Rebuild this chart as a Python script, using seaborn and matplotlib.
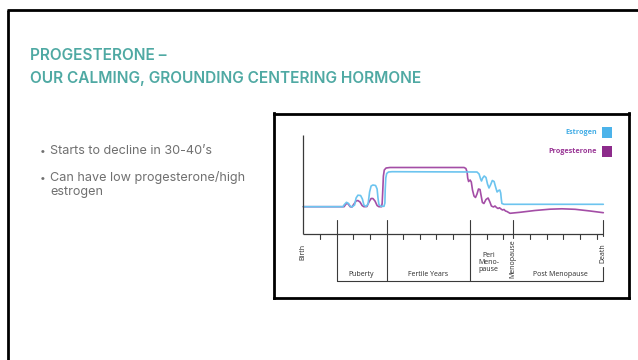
import matplotlib
matplotlib.use("Agg")
import matplotlib.pyplot as plt
import seaborn as sns
import pandas as pd
from matplotlib.patches import Rectangle
from matplotlib.lines import Line2D

# ---- data -------------------------------------------------------------
# x: position along a lifetime (Birth = 0, Death = 100); y: relative hormone level
estrogen_x = [0, 13.2, 13.7, 14.4, 15.1, 15.6, 16.2, 17.1, 17.6, 18.2, 19.1, 19.7,
              20.2, 20.9, 21.6, 22.1, 22.6, 23.2, 24.1, 24.6, 24.9, 25.2, 25.9,
              26.9, 27.2, 27.3, 27.5, 27.8, 28.4, 29.6, 57.9, 58.6, 59.1, 59.4,
              59.8, 60.3, 60.9, 61.4, 61.9, 62.4, 63.0, 63.6, 64.1, 64.6, 65.1,
              65.5, 65.8, 66.0, 66.2, 66.9, 100]
estrogen_y = [27.6, 27.6, 29.8, 32.0, 30.8, 28.3, 27.3, 29.3, 36.3, 39.1, 38.8, 35.3,
              29.3, 27.8, 30.3, 42.3, 48.3, 49.3, 48.8, 45.3, 36.3, 29.8, 28.0,
              28.0, 31.3, 44.3, 56.3, 60.8, 62.3, 62.6, 62.3, 60.3, 55.3, 53.3,
              56.3, 58.3, 56.8, 50.3, 46.3, 49.3, 53.8, 52.8, 47.3, 42.3, 43.8,
              44.3, 41.3, 35.3, 30.8, 30.0, 30.0]

progesterone_x = [0, 13.6, 14.1, 14.6, 15.1, 15.6, 16.2, 16.9, 17.6, 18.2, 18.9, 19.6,
                  20.2, 21.2, 21.9, 22.6, 23.2, 23.9, 24.6, 25.2, 26.1, 26.3, 26.5,
                  26.7, 27.0, 27.6, 28.9, 53.6, 54.2, 54.6, 54.8, 55.1, 55.6, 56.0,
                  56.4, 56.9, 57.4, 57.9, 58.4, 58.9, 59.3, 59.7, 60.2, 60.9, 61.6,
                  62.2, 62.7, 63.4, 63.9, 64.4, 64.9, 65.4, 65.9, 66.4, 66.9, 67.4,
                  67.9, 68.9, 72.2, 77.2, 82.2, 86.2, 90.6, 95.6, 100]
progesterone_y = [27.6, 27.6, 29.8, 31.3, 29.8, 27.6, 27.3, 30.3, 33.3, 33.8, 32.3, 28.8,
                  27.6, 27.8, 32.3, 35.8, 35.8, 33.3, 28.8, 27.6, 27.6, 31.3, 44.3,
                  58.3, 64.3, 66.3, 66.8, 66.8, 65.8, 62.3, 56.3, 52.8, 54.3, 52.3,
                  44.3, 38.3, 36.8, 40.3, 45.3, 44.8, 38.3, 31.8, 30.8, 34.8, 36.3,
                  32.3, 28.3, 27.3, 28.3, 26.8, 25.8, 26.5, 25.3, 24.3, 24.8, 23.3,
                  22.8, 21.0, 22.0, 23.8, 25.1, 25.5, 25.0, 23.3, 21.6]

# life stages: boundaries along the timeline and their labels
stage_bounds = [11.1, 27.8, 55.6, 70.0, 100.0]
stage_labels = ["Puberty", "Fertile Years", "Peri\nMeno-\npause", "Post Menopause"]
stage_centers = [19.4, 41.7, 61.7, 85.8]
minor_ticks = [5.6, 16.7, 22.2, 33.3, 38.9, 44.4, 50.0, 61.1, 66.7,
               75.6, 81.1, 86.7, 92.2, 97.8]

series_names = ["Estrogen", "Progesterone"]
series_colors = {"Estrogen": "#6cc4ef", "Progesterone": "#a44ea6"}
legend_text_colors = {"Estrogen": "#45aee6", "Progesterone": "#9a3796"}
legend_box_colors = {"Estrogen": "#4cb3ea", "Progesterone": "#8d2b8b"}

title_lines = ["PROGESTERONE \u2013", "OUR CALMING, GROUNDING CENTERING HORMONE"]
bullets = ["Starts to decline in 30-40\u2019s",
           "Can have low progesterone/high\nestrogen"]

# ---- figure -----------------------------------------------------------
W, H = 638, 360
sns.set_theme(style="white")
plt.rcParams['font.family'] = ['Inter', 'DejaVu Sans']

fig = plt.figure(figsize=(W / 100, H / 100), dpi=100)
fig.patch.set_facecolor("white")


def fx(px):
    return px / W


def fy(py):
    return 1 - py / H


# slide frame
fig.add_artist(Line2D([fx(8), fx(8)], [fy(10), fy(362)], color="black", lw=2.0,
                      solid_capstyle="butt"))
fig.add_artist(Line2D([fx(7), fx(640)], [fy(10), fy(10)], color="black", lw=2.0,
                      solid_capstyle="butt"))

# title
title_color = "#4fa9a3"
fig.text(fx(30), fy(56), title_lines[0], color=title_color, fontsize=11.1,
         fontweight="semibold", va="center", ha="left")
fig.text(fx(30), fy(79), title_lines[1], color=title_color, fontsize=11.1,
         fontweight="semibold", va="center", ha="left")

# bullet points
text_gray = "#707070"
bullet_fs = 9.1
fig.text(fx(40), fy(151), "\u2022", color=text_gray, fontsize=7.5, va="center")
fig.text(fx(50.5), fy(151), bullets[0], color=text_gray, fontsize=bullet_fs,
         va="center")
fig.text(fx(40), fy(177.5), "\u2022", color=text_gray, fontsize=7.5, va="center")
fig.text(fx(50.5), fy(171.5), bullets[1], color=text_gray, fontsize=bullet_fs,
         va="top", linespacing=1.15)

# chart panel
box_l, box_r, box_t, box_b = 273.5, 628.5, 113.5, 297.5
ax = fig.add_axes([fx(box_l), fy(box_b), (box_r - box_l) / W, (box_b - box_t) / H])
ax.set_xlim(-9.93, 108.4)
ax.set_ylim(-63.2, 120.8)
ax.set_xticks([])
ax.set_yticks([])
for sp in ax.spines.values():
    sp.set_visible(True)
    sp.set_color("black")
    sp.set_linewidth(2.0)

df = pd.concat([
    pd.DataFrame({"x": estrogen_x, "y": estrogen_y, "hormone": "Estrogen"}),
    pd.DataFrame({"x": progesterone_x, "y": progesterone_y, "hormone": "Progesterone"}),
])
sns.lineplot(data=df, x="x", y="y", hue="hormone", palette=series_colors,
             estimator=None, sort=False, lw=1.2, legend=False, ax=ax,
             hue_order=series_names[::-1])
ax.set_xlabel("")
ax.set_ylabel("")

axis_color = "#3a3a3a"
# axes of the timeline chart
ax.plot([0, 0], [0, 99.3], color=axis_color, lw=0.9, solid_capstyle="butt")
ax.plot([0, 100], [0, 0], color=axis_color, lw=0.9, solid_capstyle="butt")
for t in minor_ticks:
    ax.plot([t, t], [0, -5], color=axis_color, lw=0.8)
for b in stage_bounds[:3]:
    ax.plot([b, b], [14.3, -46.6], color=axis_color, lw=0.8)
ax.plot([stage_bounds[3], stage_bounds[3]], [14.3, -3.5], color=axis_color, lw=0.8)
ax.plot([100, 100], [14.3, -2], color=axis_color, lw=0.8)
ax.plot([100, 100], [-33, -46.6], color=axis_color, lw=0.8)
ax.plot([stage_bounds[0], 100], [-46.6, -46.6], color=axis_color, lw=0.8)

lab_fs = 5.0
lab_color = "#2a2a2a"
lab_family = ["Open Sans", "DejaVu Sans"]
for lab, cx in zip(stage_labels, stage_centers):
    if "\n" in lab:
        ax.text(cx, -17.5, lab, ha="center", va="top", fontsize=lab_fs,
                color=lab_color, linespacing=1.05, family=lab_family)
    else:
        ax.text(cx, -41.5, lab, ha="center", va="baseline", fontsize=lab_fs,
                color=lab_color, family=lab_family)
ax.text(0, -17.5, "Birth", rotation=90, ha="center", va="center", fontsize=lab_fs,
        color=lab_color, family=lab_family)
ax.text(stage_bounds[3], -24, "Menopause", rotation=90, ha="center", va="center",
        fontsize=lab_fs, color=lab_color, family=lab_family)
ax.text(100, -18.5, "Death", rotation=90, ha="center", va="center", fontsize=lab_fs,
        color=lab_color, family=lab_family)

# legend
for name, ly in zip(series_names, [101.5, 82.5]):
    ax.text(97.9, ly, name, ha="right", va="center", fontsize=5.2, fontweight="bold",
            color=legend_text_colors[name], family=lab_family)
    ax.add_patch(Rectangle((99.5, ly - 5.3), 3.3, 10.6, color=legend_box_colors[name],
                           lw=0, clip_on=False))

fig.savefig("out.png", dpi=100, facecolor="white")
